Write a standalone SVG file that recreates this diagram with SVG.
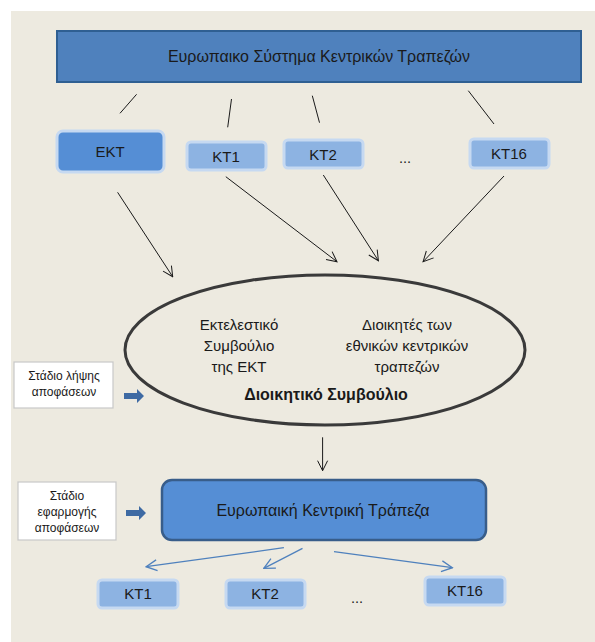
<svg xmlns="http://www.w3.org/2000/svg" width="595" height="642" viewBox="0 0 595 642">
<defs>
<style>
text{font-family:"Liberation Sans",Arial,sans-serif;fill:#1a1a1a;text-anchor:middle}
.t16{font-size:16px}
.t14{font-size:14.5px}
.t15{font-size:15px}
.t12{font-size:12px}
.ln{stroke:#1a1a1a;stroke-width:1;fill:none}
.bl{stroke:#4f81bd;stroke-width:1.3;fill:none}
.kt{fill:#8db3e2;stroke:#c6d9f1;stroke-width:3}
.lab{fill:#ffffff;stroke:#c8c8c8;stroke-width:1.2}
.blk{fill:#3e6aa3}
</style>
<marker id="ah" viewBox="0 0 12 12" refX="11" refY="6" markerWidth="12" markerHeight="12" markerUnits="userSpaceOnUse" orient="auto">
<path d="M1,1 L11,6 L1,11" fill="none" stroke="#1a1a1a" stroke-width="1"/>
</marker>
<marker id="ahb" viewBox="0 0 12 12" refX="11" refY="6" markerWidth="13" markerHeight="13" markerUnits="userSpaceOnUse" orient="auto">
<path d="M1,1 L11,6 L1,11" fill="none" stroke="#4f81bd" stroke-width="1.2"/>
</marker>
</defs>
<rect x="11" y="11" width="590" height="640" fill="#edeae0"/>

<g id="escb">
<rect x="57" y="31" width="524" height="51" fill="#4f81bd" stroke="#2f5f92" stroke-width="2"/>
<text class="t16" x="319" y="62">Ευρωπαικο Σύστημα Κεντρικών Τραπεζών</text>
</g>

<g id="ekt">
<rect x="57" y="131" width="107" height="41" rx="6" fill="#558ed5" stroke="#c6d9f1" stroke-width="3"/>
<text class="t15" x="110" y="157">ΕΚΤ</text>
</g>
<g id="kt1-top">
<rect x="187" y="142" width="79" height="28" rx="4" class="kt"/>
<text class="t15" x="226" y="162">ΚΤ1</text>
</g>
<g id="kt2-top">
<rect x="284" y="140" width="79" height="28" rx="4" class="kt"/>
<text class="t15" x="323" y="160">ΚΤ2</text>
</g>
<text class="t14" x="405" y="163" fill="#1a1a1a">...</text>
<g id="kt16-top">
<rect x="470" y="139" width="79" height="29" rx="4" class="kt"/>
<text class="t15" x="509" y="159">ΚΤ16</text>
</g>

<g id="council">
<ellipse cx="325" cy="350" rx="200" ry="75" fill="none" stroke="#3a3a3a" stroke-width="3"/>
<text class="t15" x="239" y="330">Εκτελεστικό</text>
<text class="t15" x="239" y="351">Συμβούλιο</text>
<text class="t15" x="239" y="372">της ΕΚΤ</text>
<text class="t15" x="407" y="330">Διοικητές των</text>
<text class="t15" x="407" y="351">εθνικών κεντρικών</text>
<text class="t15" x="407" y="372">τραπεζών</text>
<text class="t16" x="326" y="400" font-weight="bold">Διοικητικό Συμβούλιο</text>
</g>

<g id="label-decision">
<rect x="14" y="362" width="99" height="46" class="lab"/>
<text class="t12" x="64" y="380">Στάδιο λήψης</text>
<text class="t12" x="64" y="396">αποφάσεων</text>
<path class="blk" d="M124,393 L137,393 L137,389 L144,396 L137,403 L137,399 L124,399 Z"/>
</g>

<g id="ecb">
<rect x="162" y="480" width="324" height="60" rx="10" fill="#558ed5" stroke="#385d8a" stroke-width="2.5"/>
<text class="t16" x="323" y="516">Ευρωπαική Κεντρική Τράπεζα</text>
</g>

<g id="label-impl">
<rect x="18" y="482" width="98" height="58" class="lab"/>
<text class="t12" x="67" y="500">Στάδιο</text>
<text class="t12" x="67" y="516">εφαρμογής</text>
<text class="t12" x="67" y="532">αποφάσεων</text>
<path class="blk" d="M126,510 L139,510 L139,506 L146,513 L139,520 L139,516 L126,516 Z"/>
</g>

<g id="kt1-bottom">
<rect x="98" y="580" width="80" height="28" rx="4" class="kt"/>
<text class="t15" x="138" y="599">ΚΤ1</text>
</g>
<g id="kt2-bottom">
<rect x="226" y="580" width="79" height="28" rx="4" class="kt"/>
<text class="t15" x="265" y="599">ΚΤ2</text>
</g>
<text class="t14" x="357" y="603">...</text>
<g id="kt16-bottom">
<rect x="425" y="577" width="80" height="28" rx="4" class="kt"/>
<text class="t15" x="465" y="596">ΚΤ16</text>
</g>

<g id="connectors">
<line class="ln" x1="136.6" y1="94.3" x2="120" y2="113.3"/>
<line class="ln" x1="231.5" y1="99" x2="227.7" y2="127.3"/>
<line class="ln" x1="312.3" y1="95.7" x2="319.5" y2="122.7"/>
<line class="ln" x1="468.3" y1="90.7" x2="494" y2="124"/>
<line class="ln" x1="117.6" y1="192.3" x2="172.7" y2="276.7" marker-end="url(#ah)"/>
<line class="ln" x1="225.8" y1="176.7" x2="337" y2="261.7" marker-end="url(#ah)"/>
<line class="ln" x1="323.3" y1="175" x2="378.4" y2="260.7" marker-end="url(#ah)"/>
<line class="ln" x1="504" y1="176" x2="423.1" y2="261.7" marker-end="url(#ah)"/>
<line class="ln" x1="322.6" y1="437.3" x2="322.6" y2="470.7" marker-end="url(#ah)"/>
<line class="bl" x1="283.9" y1="547.7" x2="146.1" y2="566.7" marker-end="url(#ahb)"/>
<line class="bl" x1="302.5" y1="548.3" x2="263.8" y2="568.3" marker-end="url(#ahb)"/>
<line class="bl" x1="334" y1="551.7" x2="452.4" y2="567.7" marker-end="url(#ahb)"/>
</g>
</svg>
